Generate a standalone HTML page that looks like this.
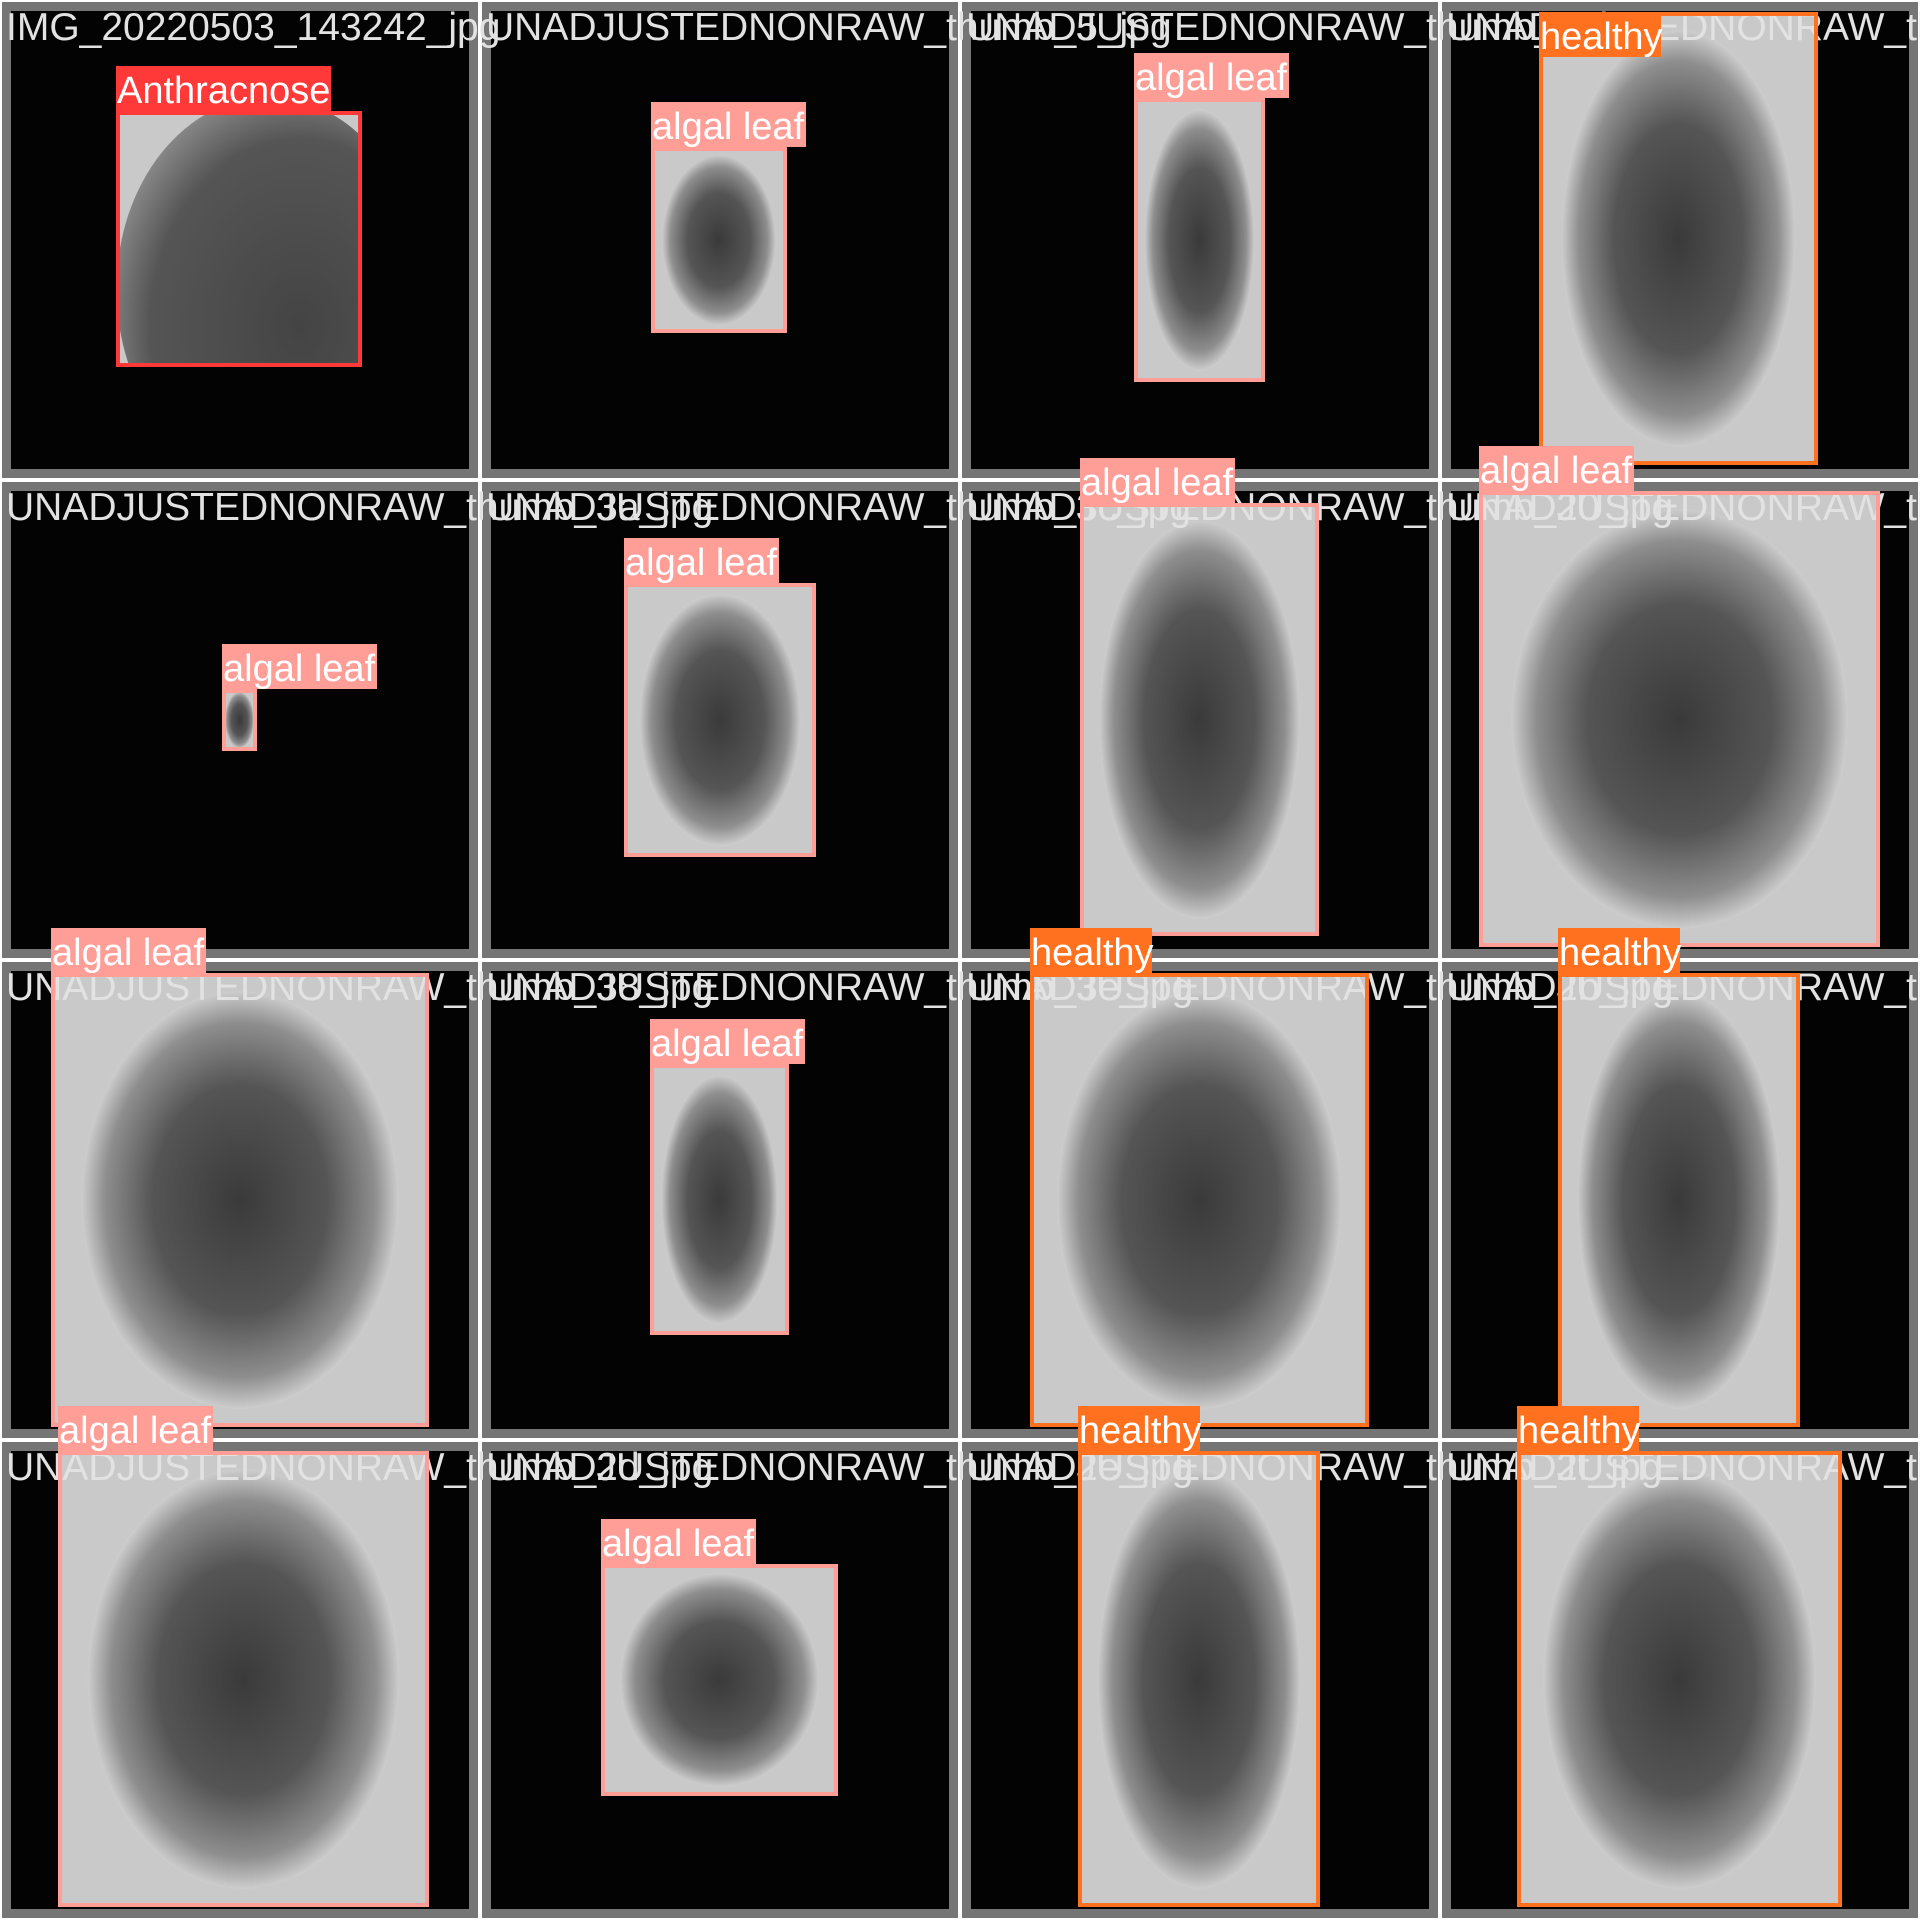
<!DOCTYPE html>
<html><head><meta charset="utf-8"><style>
html,body{margin:0;padding:0;background:#fff;}
svg{display:block;}
text{font-family:"Liberation Sans",sans-serif;}
</style></head><body>
<svg id="mosaic" width="1920" height="1920" viewBox="0 0 1920 1920" xmlns="http://www.w3.org/2000/svg">
<defs id="defs">
<radialGradient id="leafG" cx="50%" cy="50%" r="50%">
<stop offset="0" stop-color="#3a3a3a"/><stop offset="0.55" stop-color="#555"/><stop offset="0.85" stop-color="#8e8e8e"/><stop offset="1" stop-color="#cdcdcd"/>
</radialGradient>
<radialGradient id="leafA" cx="60%" cy="60%" r="70%">
<stop offset="0" stop-color="#444"/><stop offset="0.7" stop-color="#555"/><stop offset="1" stop-color="#9a9a9a"/>
</radialGradient>
</defs>
</svg>
<script>
const tileNames = [
 "IMG_20220503_143242_jpg","UNADJUSTEDNONRAW_thumb_5_jpg","UNADJUSTEDNONRAW_thumb_2_jpg","UNADJUSTEDNONRAW_thumb_1_jpg",
 "UNADJUSTEDNONRAW_thumb_3a_jpg","UNADJUSTEDNONRAW_thumb_3c_jpg","UNADJUSTEDNONRAW_thumb_20_jpg","UNADJUSTEDNONRAW_thumb_6_jpg",
 "UNADJUSTEDNONRAW_thumb_38_jpg","UNADJUSTEDNONRAW_thumb_3e_jpg","UNADJUSTEDNONRAW_thumb_2b_jpg","UNADJUSTEDNONRAW_thumb_2d_jpg",
 "UNADJUSTEDNONRAW_thumb_2d_jpg","UNADJUSTEDNONRAW_thumb_2e_jpg","UNADJUSTEDNONRAW_thumb_2f_jpg","UNADJUSTEDNONRAW_thumb_5c_jpg"];
const boxLabels = ["Anthracnose","algal leaf","algal leaf","healthy","algal leaf","algal leaf","algal leaf","algal leaf",
 "algal leaf","algal leaf","healthy","healthy","algal leaf","algal leaf","healthy","healthy"];
const boxX1 = [116,651,1134,1539,222,624,1080,1479,51,650,1030,1558,58,601,1078,1517];
const boxY1 = [111,147,98,12,689,583,503,491,973,1064,973,973,1451,1564,1451,1451];
const boxX2 = [362,787,1265,1818,257,816,1319,1880,429,789,1369,1800,429,838,1320,1842];
const boxY2 = [367,333,382,465,751,857,936,947,1427,1335,1427,1427,1907,1796,1907,1907];
const classColors = {"Anthracnose":"#ff3838","algal leaf":"#ff9d97","healthy":"#ff701f"};
const NS="http://www.w3.org/2000/svg";
const svg=document.getElementById('mosaic');
const defs=document.getElementById('defs');
function mk(t,a){const e=document.createElementNS(NS,t);for(const k in a)e.setAttribute(k,a[k]);return e;}
const T=480;
for(let i=0;i<16;i++){
 const x=(i%4)*T,y=Math.floor(i/4)*T;
 const g=mk('rect',{x:x,y:y,width:T,height:T,fill:'#ffffff'});
 
 
 svg.appendChild(g);
 const fr=mk('rect',{x:x+2,y:y+2,width:T-4,height:T-4,fill:'#757575'});
 
 
 svg.appendChild(fr);
 const bl=mk('rect',{x:x+11,y:y+11,width:T-22,height:T-22,fill:'#030303'});
 
 
 svg.appendChild(bl);
}
for(let i=0;i<16;i++){
 const x1=boxX1[i],y1=boxY1[i],x2=boxX2[i],y2=boxY2[i];
 const cp=mk('clipPath',{id:'cp'+i});
 cp.appendChild(mk('rect',{x:x1,y:y1,width:x2-x1,height:y2-y1}));
 defs.appendChild(cp);
 const grp=mk('g',{'clip-path':'url(#cp'+i+')'});
 
 
 svg.appendChild(grp);
 const r=mk('rect',{x:x1,y:y1,width:x2-x1,height:y2-y1,fill:'#c9c9c9'});
 grp.appendChild(r);
 const isA=boxLabels[i]==="Anthracnose";
 const e=mk('ellipse',{cx:(x1+x2)/2+(isA?30:0),cy:(y1+y2)/2+(isA?50:0),rx:(x2-x1)*(isA?0.62:0.42),ry:(y2-y1)*(isA?0.75:0.46),fill:isA?'url(#leafA)':'url(#leafG)'});
 
 
 grp.appendChild(e);
}
for(let i=0;i<16;i++){
 const x=(i%4)*T,y=Math.floor(i/4)*T;
 const t=mk('text',{x:x+6,y:y+40,'font-size':39,fill:'#e2e2e2'});
 t.textContent=tileNames[i];
 
 
 svg.appendChild(t);
}
for(let i=0;i<16;i++){
 const x1=boxX1[i],y1=boxY1[i],x2=boxX2[i],y2=boxY2[i],c=classColors[boxLabels[i]];
 const b=mk('rect',{x:x1+2,y:y1+2,width:x2-x1-4,height:y2-y1-4,fill:'none',stroke:c,'stroke-width':4});
 
 
 svg.appendChild(b);
 const lw=boxLabels[i]==="Anthracnose"?215:(boxLabels[i]==="healthy"?122:155);
 const inside=y1<50;
 const ly=inside?y1:y1-45;
 const lb=mk('rect',{x:x1,y:ly,width:lw,height:45,fill:c});
 
 
 svg.appendChild(lb);
 const lt=mk('text',{x:x1+1,y:ly+37,'font-size':38,fill:'#ffffff'});
 lt.textContent=boxLabels[i];
 
 
 svg.appendChild(lt);
}
</script>
</body></html>
